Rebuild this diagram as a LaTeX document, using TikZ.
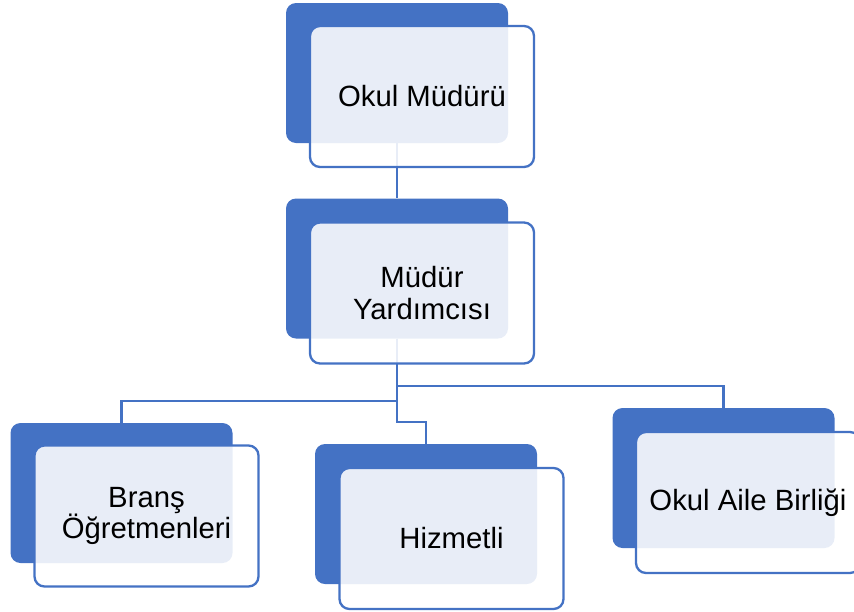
\documentclass[tikz,border=0pt]{standalone}
\usepackage{fontspec}
\setmainfont{Liberation Sans}
\definecolor{sblue}{HTML}{4472C4}
\begin{document}
\begin{tikzpicture}[x=1pt,y=-1pt,
  back/.style={fill=sblue, rounded corners=10pt, minimum width=222pt, minimum height=140pt, inner sep=0pt},
  front/.style={draw=sblue, line width=2.3pt, fill=white, fill opacity=0.88, text opacity=1,
    rounded corners=10pt, minimum width=224pt, minimum height=141pt, inner sep=0pt,
    align=center, font=\fontsize{29.3}{31.5}\selectfont},
  conn/.style={draw=sblue, line width=2.2pt}]
\useasboundingbox (0,0) rectangle (854,611);
% back boxes
\node[back] (b1) at (397,73) {};
\node[back] (b2) at (397,268.5) {};
\node[back] (b3) at (121.5,493) {};
\node[back] (b4) at (426,514) {};
\node[back] (b5) at (723.5,478) {};
% junction levels
\coordinate (y1) at (0,386);
\coordinate (y2) at (0,401);
\coordinate (y3) at (0,422);
% connectors
\draw[conn] (b1.south) -- (b2.north);
\draw[conn] (b2.south) -- (b2.south |- y3) -| (b4.north);
\draw[conn] (b2.south |- y2) -| (b3.north);
\draw[conn] (b2.south |- y1) -| (b5.north);
% front boxes
\node[front] (f1) at (422,96.5) {Okul Müdürü};
\node[front] (f2) at (422,293) {Müdür\\Yardımcısı};
\node[front] (f3) at (146.5,516) {Branş\\Öğretmenleri};
\node[front] (f4) at (451.5,538.5) {Hizmetli};
\node[front] (f5) at (748,502.5) {Okul Aile Birliği};
\end{tikzpicture}
\end{document}
